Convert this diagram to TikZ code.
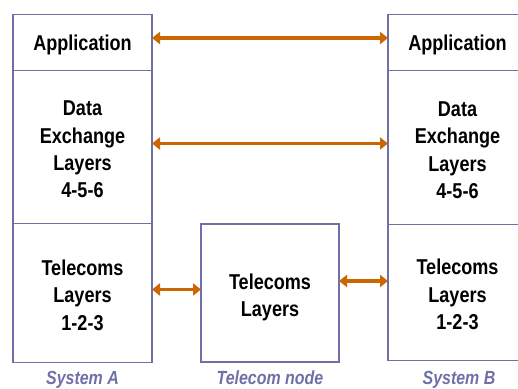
\documentclass[tikz,border=0pt]{standalone}
\usepackage{fontspec}
\setmainfont{Liberation Sans}[FakeStretch=0.84]
\usetikzlibrary{positioning, arrows.meta}
\definecolor{layerline}{RGB}{112,112,168}
\definecolor{peerarrow}{RGB}{204,102,0}
\newcommand{\topgap}[1]{\rule{0pt}{#1}}

\begin{document}
\begin{tikzpicture}[x=1pt, y=-1pt,
    layer/.style={draw=layerline, line width=1.6pt, minimum width=139pt,
      inner sep=0pt, outer sep=0pt, align=center,
      font=\fontsize{21.5}{27.4}\selectfont\bfseries},
    peer/.style={draw=peerarrow, line width=3.6pt,
      {Triangle[length=8pt, width=12pt]}-{Triangle[length=8pt, width=12pt]}},
    sysname/.style={text=layerline, text depth=0pt,
      font=\fontsize{19}{20}\selectfont\bfseries\itshape},
  ]
  \useasboundingbox (0,0) rectangle (518,388);

  % System A stack
  \node[layer, minimum height=56pt, text depth=0pt] (appA) at (82.5,42.5) {Application};
  \node[layer, minimum height=153pt, below=0pt of appA] (dataA) {\topgap{20pt}Data\\Exchange\\Layers\\4-5-6};
  \node[layer, minimum height=139pt, below=0pt of dataA] (telA) {\topgap{20pt}Telecoms\\Layers\\1-2-3};

  % System B stack (runs off the right edge)
  \node[layer, minimum height=56pt, text depth=0pt] (appB) at (457.5,42.5) {Application};
  \node[layer, minimum height=154pt, below=0pt of appB] (dataB) {\topgap{20pt}Data\\Exchange\\Layers\\4-5-6};
  \node[layer, minimum height=136pt, below=0pt of dataB] (telB) {\topgap{20pt}Telecoms\\Layers\\1-2-3};

  % relay in the middle
  \node[layer, minimum width=138pt, minimum height=138pt] (telN) at (270,293) {\topgap{24pt}Telecoms\\Layers};

  % peer-to-peer links
  \draw[peer] ([yshift=4.5pt]appA.east) -- ([yshift=4.5pt]appA.east -| appB.west);
  \draw[peer] ([yshift=3.5pt]dataA.east) -- ([yshift=3.5pt]dataA.east -| dataB.west);
  \draw[peer] ([yshift=3.5pt]telA.east) -- ([yshift=3.5pt]telA.east -| telN.west);
  \draw[peer] ([yshift=12pt]telN.east) -- ([yshift=12pt]telN.east -| telB.west);

  % captions
  \node[sysname] (capA) at (82.5,377.5) {System A};
  \node[sysname] (capN) at (270,377.5) {Telecom node};
  \node[sysname] (capB) at (459,377.5) {System B};
\end{tikzpicture}
\end{document}
